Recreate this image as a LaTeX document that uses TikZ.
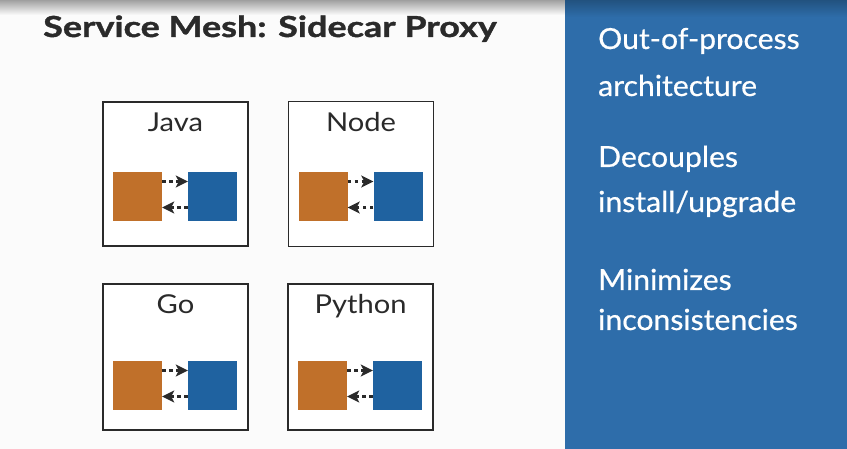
\documentclass[tikz,border=0pt]{standalone}
\usepackage{fontspec}
\setmainfont{Lato}
\newfontfamily\titlefont{Lato}[FakeStretch=1.24, FakeBold=1.3]
\newfontfamily\labelfont{Lato}[FakeStretch=1.12]
\newfontfamily\panelfont{Lato}[FakeStretch=1.04, FakeBold=0.6]
\usetikzlibrary{arrows.meta}
\definecolor{bgwhite}{HTML}{FBFBFB}
\definecolor{panelblue}{HTML}{2E6DAA}
\definecolor{paneltop}{HTML}{22527F}
\definecolor{procorange}{HTML}{C0702A}
\definecolor{proxyblue}{HTML}{1F62A0}
\definecolor{inkgray}{HTML}{2A2A2A}
\tikzset{
  svcframe/.style={draw=inkgray, line width=1.8pt, fill=white, minimum width=145pt, inner sep=0pt},
  svclabel/.style={anchor=base, font=\labelfont\fontsize{26}{30}\selectfont, text=inkgray, inner sep=0pt},
  appsq/.style={fill=procorange, minimum width=49pt, minimum height=49pt, inner sep=0pt},
  proxsq/.style={fill=proxyblue, minimum width=49pt, minimum height=49pt, inner sep=0pt},
  dotarrow/.style={draw=inkgray, line width=3.6pt, dash pattern=on 3.6pt off 3.4pt, -{Stealth[length=12pt,width=12pt,inset=3pt]}},
  paneltext/.style={anchor=base west, font=\panelfont\fontsize{29}{34}\selectfont, text=white, inner sep=0pt},
}
\begin{document}
\begin{tikzpicture}[x=1pt,y=1pt]
\useasboundingbox (0,0) rectangle (847,449);
% background
\fill[bgwhite] (0,0) rectangle (847,449);
\shade[top color=gray!75, bottom color=bgwhite] (0,434) rectangle (565,449);
% right panel
\fill[panelblue] (565,0) rectangle (847,449);
\shade[top color=paneltop, bottom color=panelblue] (565,432) rectangle (847,449);
% title
\node[anchor=base west, inner sep=0pt, font=\titlefont\fontsize{29}{34}\selectfont\bfseries, text=inkgray] (title) at (43,412) {Service Mesh: Sidecar Proxy};
% service boxes
\foreach \n/\cx/\cy/\h/\lab/\lb/\sq in {java/175.5/275/144/Java/317/252.5,
                                        node/361/275/145/Node/317/252.5,
                                        go/175.5/92/146/Go/135/63.5,
                                        py/360.5/92/146/Python/135/63.5}{
  \node[svcframe, minimum height=\h pt] (\n-box) at (\cx,\cy) {};
  \node[svclabel] (\n-lab) at (\cx,\lb) {\lab};
  \node[appsq] (\n-app) at (\cx-38,\sq) {};
  \node[proxsq] (\n-prx) at (\cx+37,\sq) {};
  \draw[dotarrow] ([yshift=15pt]\n-app.east) -- ([yshift=15pt]\n-prx.west);
  \draw[dotarrow] ([yshift=-11pt]\n-prx.west) -- ([yshift=-11pt]\n-app.east);
}
% panel text
\node[paneltext] (t1) at (598,400) {Out-of-process};
\node[paneltext] (t2) at (598,353) {architecture};
\node[paneltext] (t3) at (598,282) {Decouples};
\node[paneltext] (t4) at (598,237) {install/upgrade};
\node[paneltext] (t5) at (598,159) {Minimizes};
\node[paneltext] (t6) at (598,119) {inconsistencies};
\end{tikzpicture}
\end{document}
